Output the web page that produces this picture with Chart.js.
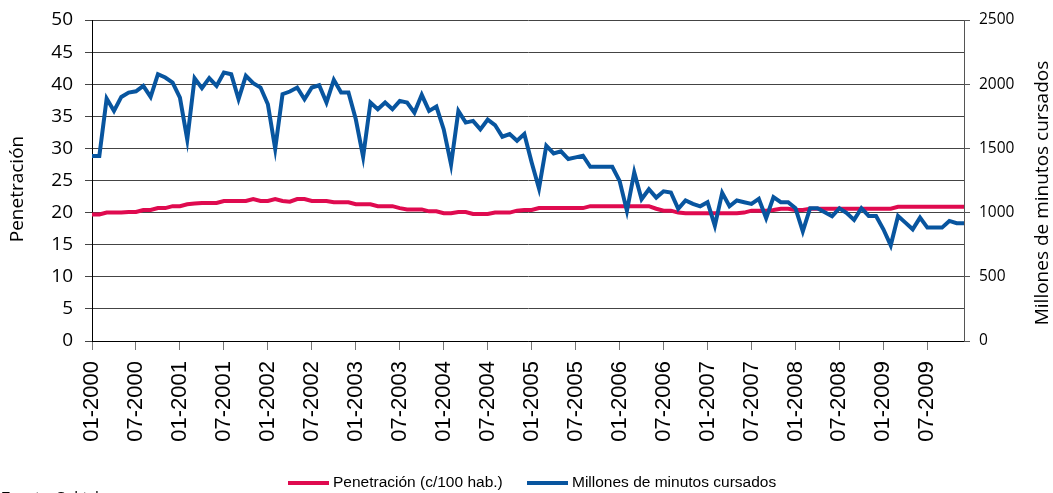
<!DOCTYPE html>
<html>
<head>
<meta charset="utf-8">
<script src="https://cdn.jsdelivr.net/npm/chart.js@4.4.1/dist/chart.umd.min.js"></script>
<style>
  html, body { margin: 0; padding: 0; background: #fff; }
  #wrap { width: 1053px; height: 493px; }
</style>
</head>
<body>
<div id="wrap"><canvas id="c" width="1053" height="493"></canvas></div>
<script>
// ---- data ----
const years = [2000, 2001, 2002, 2003, 2004, 2005, 2006, 2007, 2008, 2009];
const monthNums = ['01','02','03','04','05','06','07','08','09','10','11','12'];
const months = [];
years.forEach(y => monthNums.forEach(m => months.push(m + '-' + y)));

const tickLabels = ['01-2000','07-2000','01-2001','07-2001','01-2002','07-2002','01-2003','07-2003',
  '01-2004','07-2004','01-2005','07-2005','01-2006','07-2006','01-2007','07-2007','01-2008','07-2008',
  '01-2009','07-2009'];

// Penetración (c/100 hab.) - left axis
const penetracion = [
  19.7,19.7,20.0,20.0,20.0,20.1,20.1,20.4,20.4,20.7,20.7,21.0,
  21.0,21.3,21.4,21.5,21.5,21.5,21.8,21.8,21.8,21.8,22.1,21.8,
  21.8,22.1,21.8,21.7,22.1,22.1,21.8,21.8,21.8,21.6,21.6,21.6,
  21.3,21.3,21.3,21.0,21.0,21.0,20.7,20.5,20.5,20.5,20.2,20.2,
  19.9,19.9,20.1,20.1,19.8,19.8,19.8,20.0,20.0,20.0,20.3,20.4,
  20.4,20.7,20.7,20.7,20.7,20.7,20.7,20.7,21.0,21.0,21.0,21.0,
  21.0,21.0,21.0,21.0,21.0,20.6,20.3,20.3,20.0,19.9,19.9,19.9,
  19.9,19.9,19.9,19.9,19.9,20.0,20.3,20.3,20.3,20.4,20.6,20.6,
  20.4,20.4,20.6,20.6,20.6,20.6,20.6,20.6,20.6,20.6,20.6,20.6,
  20.6,20.6,20.9,20.9,20.9,20.9,20.9,20.9,20.9,20.9,20.9,20.9
];

// Millones de minutos cursados - right axis
const minutos = [
  1440,1440,1888,1792,1901,1935,1945,1987,1901,2078,2052,2013,
  1896,1570,2047,1969,2047,1987,2091,2078,1883,2065,2008,1974,
  1844,1497,1922,1943,1974,1883,1974,1992,1857,2034,1935,1935,
  1727,1435,1857,1805,1857,1805,1870,1857,1779,1917,1792,1826,
  1648,1375,1792,1701,1714,1648,1724,1682,1591,1612,1560,1612,
  1391,1188,1521,1461,1477,1417,1430,1443,1357,1357,1357,1357,
  1247,1013,1313,1104,1182,1117,1166,1157,1029,1094,1068,1049,
  1081,898,1154,1049,1094,1081,1068,1107,956,1120,1081,1081,
  1034,854,1034,1034,1003,971,1034,997,943,1034,974,974,
  870,745,974,922,870,961,883,883,883,935,917,917
];

const seriesNames = ['Penetración (c/100 hab.)', 'Millones de minutos cursados'];
const seriesColors = ['#DF0A4F', '#08559F'];
const leftTitle = 'Penetración';
const rightTitle = 'Millones de minutos cursados';
const sourceText = 'Fuente: Subtel';

// ---- extra drawing: axis titles, legend, source ----
const decorations = {
  id: 'decorations',
  afterDraw(chart) {
    const ctx = chart.ctx;
    ctx.save();
    ctx.fillStyle = '#000';
    ctx.font = '19px "Open Sans"';
    ctx.textAlign = 'center';
    ctx.textBaseline = 'middle';
    ctx.save();
    ctx.translate(18, 189);
    ctx.rotate(-Math.PI / 2);
    ctx.fillText(leftTitle, 0, 0);
    ctx.restore();
    ctx.save();
    ctx.translate(1043, 193);
    ctx.rotate(-Math.PI / 2);
    ctx.fillText(rightTitle, 0, 0);
    ctx.restore();

    const items = [{x: 288}, {x: 527}];
    ctx.font = '15.5px "Liberation Sans"';
    ctx.textAlign = 'left';
    ctx.textBaseline = 'middle';
    chart.data.datasets.forEach((ds, i) => {
      const x = items[i].x, y = 483;
      ctx.strokeStyle = ds.borderColor;
      ctx.lineWidth = 4;
      ctx.beginPath();
      ctx.moveTo(x, y);
      ctx.lineTo(x + 41, y);
      ctx.stroke();
      ctx.fillStyle = '#000';
      ctx.fillText(ds.label, x + 45, y);
    });

    ctx.font = '15px "Liberation Sans"';
    ctx.textBaseline = 'top';
    ctx.fillText(sourceText, 1, 490);
    ctx.restore();
  }
};

new Chart(document.getElementById('c'), {
  type: 'line',
  data: {
    labels: months,
    datasets: [
      {
        label: seriesNames[0],
        data: penetracion,
        yAxisID: 'y',
        borderColor: seriesColors[0],
        backgroundColor: seriesColors[0],
        borderWidth: 4,
        pointRadius: 0,
        tension: 0,
        order: 1
      },
      {
        label: seriesNames[1],
        data: minutos,
        yAxisID: 'y1',
        borderColor: seriesColors[1],
        backgroundColor: seriesColors[1],
        borderWidth: 4,
        pointRadius: 0,
        tension: 0,
        order: 0
      }
    ]
  },
  options: {
    responsive: false,
    devicePixelRatio: 1,
    animation: false,
    layout: { padding: { top: 20, left: 0, right: 0, bottom: 0 } },
    plugins: {
      legend: { display: false },
      tooltip: { enabled: false },
      title: { display: false }
    },
    scales: {
      x: {
        type: 'category',
        offset: false,
        grid: { drawOnChartArea: false, drawTicks: true, tickLength: 9, color: '#777' },
        border: { color: '#000', width: 1 },
        ticks: {
          autoSkip: false,
          minRotation: 90,
          maxRotation: 90,
          padding: 11,
          color: '#000',
          font: { family: 'Liberation Sans', size: 22 },
          callback: function (value, index) {
            const lab = months[index];
            return tickLabels.includes(lab) ? lab : null;
          }
        },
        afterFit: s => { s.height = 152; }
      },
      y: {
        position: 'left',
        min: 0,
        max: 50,
        ticks: {
          stepSize: 5,
          padding: 12,
          color: '#000',
          font: { family: 'Open Sans', size: 19, lineHeight: 0.8 }
        },
        grid: { color: '#444', tickLength: 7, lineWidth: 1 },
        border: { color: '#000', width: 1 },
        afterFit: s => { s.width = 92; }
      },
      y1: {
        position: 'right',
        min: 0,
        max: 2500,
        ticks: {
          stepSize: 500,
          padding: 9,
          color: '#000',
          font: { family: 'Open Sans', size: 15.5, lineHeight: 0.8 },
          callback: v => String(v)
        },
        grid: { drawOnChartArea: false, color: '#555', tickLength: 6 },
        border: { color: '#555', width: 1 },
        afterFit: s => { s.width = 89; }
      }
    }
  },
  plugins: [decorations]
});
</script>
</body>
</html>
